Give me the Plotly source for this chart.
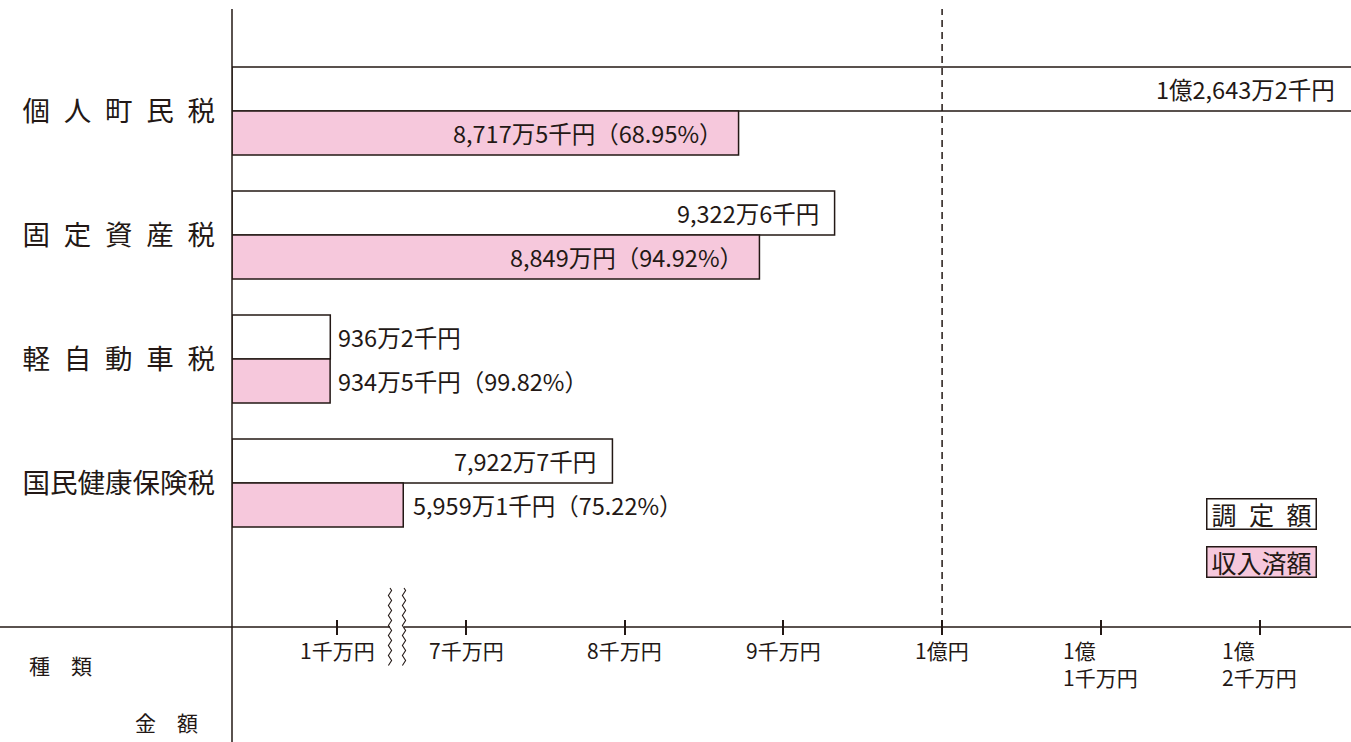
import plotly.graph_objects as go

# ---------------- data ----------------
categories = ["個人町民税", "固定資産税", "軽自動車税", "国民健康保険税"]
category_labels = ["個\u2002人\u2002町\u2002民\u2002税", "固\u2002定\u2002資\u2002産\u2002税",
                   "軽\u2002自\u2002動\u2002車\u2002税", "国民健康保険税"]
series_names = ["調定額", "収入済額"]
legend_labels = ["調\u2002定\u2002額", "収入済額"]
assessed = [126432000, 93226000, 9362000, 79227000]          # 調定額 (円)
collected = [87175000, 88490000, 9345000, 59591000]          # 収入済額 (円)
collection_rates = [68.95, 94.92, 99.82, 75.22]              # 収納率 (%)
assessed_labels = ["1億2,643万2千円", "9,322万6千円", "936万2千円", "7,922万7千円"]
collected_labels = ["8,717万5千円", "8,849万円", "934万5千円", "5,959万1千円"]
low_tick_values = [10000000]
low_tick_labels = ["1千万円"]
high_tick_values = [70000000, 80000000, 90000000, 100000000, 110000000, 120000000]
high_tick_labels = ["7千万円", "8千万円", "9千万円", "1億円", "1億<br>1千万円", "1億<br>2千万円"]
reference_line_value = 100000000
corner_labels = ["種　類", "金　額"]

# ---------------- layout geometry (pixels) ----------------
W, H = 1351, 742
PL, PR, PT, PB = 232, 1351, 9, 619
AXIS_Y = 627
BREAK_X = 404
PW, PH = PR - PL, PB - PT

def px_x(p):
    return (p - PL) / PW

def px_y(p):
    return (PB - p) / PH

INK = "#231815"
PINK = "#f6c8dc"
VALUE_FONT = dict(family="Noto Sans CJK JP", size=23.5, color=INK)

# axis 1 (0 .. break), axis 2 (after break)
low_px_per_unit = 105 / 1e7
x1_end = (BREAK_X - PL) / low_px_per_unit
high_px_per_unit = 158.7 / 1e7
x2_start = 7e7 - (466 - BREAK_X) / high_px_per_unit
x2_end = 7e7 + (PR - 466) / high_px_per_unit
d1 = px_x(BREAK_X)

n = len(categories)
y_top = -(111 - PT) / 124
y_bottom = (PB - 111) / 124
BARGAP = 0.29
half = 0.5 * (1 - BARGAP) / 2

fig = go.Figure()
for xa in ["x", "x2"]:
    fig.add_trace(go.Bar(y=categories, x=assessed, orientation="h", name=series_names[0],
                         xaxis=xa, yaxis="y", offsetgroup="a",
                         marker=dict(color="white", line=dict(color=INK, width=1.5)),
                         showlegend=False))
    fig.add_trace(go.Bar(y=categories, x=collected, orientation="h", name=series_names[1],
                         xaxis=xa, yaxis="y", offsetgroup="b",
                         marker=dict(color=PINK, line=dict(color=INK, width=1.5)),
                         showlegend=False))

annotations = []
shapes = []

def add_value_label(value, text, yi):
    if value >= 7e7:
        annotations.append(dict(x=min(value, x2_end), y=yi, xref="x2", yref="y", text=text,
                                showarrow=False, xanchor="right", xshift=-14,
                                font=VALUE_FONT))
    elif value > x1_end:
        # bar ends inside the axis break: close it at the break and label it there
        annotations.append(dict(x=x1_end, y=yi, xref="x", yref="y", text=text,
                                showarrow=False, xanchor="left", xshift=7,
                                font=VALUE_FONT))
        shapes.append(dict(type="line", xref="x", yref="y", x0=x1_end, x1=x1_end,
                           y0=yi - half, y1=yi + half, line=dict(color=INK, width=3)))
    else:
        annotations.append(dict(x=value, y=yi, xref="x", yref="y", text=text,
                                showarrow=False, xanchor="left", xshift=6,
                                font=VALUE_FONT))

for i in range(n):
    add_value_label(assessed[i], assessed_labels[i], i - half)
    add_value_label(collected[i], f"{collected_labels[i]}（{collection_rates[i]:.2f}%）", i + half)

TICK_FONT = dict(family="Noto Sans CJK JP", size=21, color=INK)
for v, t in zip(low_tick_values, low_tick_labels):
    annotations.append(dict(x=v, y=px_y(633), xref="x", yref="paper", text=t, showarrow=False,
                            xanchor="center", yanchor="top", align="left", font=TICK_FONT))
for v, t in zip(high_tick_values, high_tick_labels):
    annotations.append(dict(x=v, y=px_y(633), xref="x2", yref="paper", text=t, showarrow=False,
                            xanchor="center", yanchor="top", align="left", font=TICK_FONT))

# legend boxes
for lbl, bg, cy in [(legend_labels[0], "white", 514), (legend_labels[1], PINK, 561.5)]:
    annotations.append(dict(x=px_x(1261), y=px_y(cy), xref="paper", yref="paper", text=lbl,
                            showarrow=False, xanchor="center", yanchor="middle",
                            width=106, height=27, borderpad=1, borderwidth=1.5,
                            bordercolor=INK, bgcolor=bg,
                            font=dict(family="Noto Sans CJK JP", size=25, color=INK)))

# corner labels
CORNER_FONT = dict(family="Noto Sans CJK JP", size=21, color=INK)
annotations.append(dict(x=px_x(60), y=px_y(665), xref="paper", yref="paper", text=corner_labels[0],
                        showarrow=False, xanchor="center", yanchor="middle", font=CORNER_FONT))
annotations.append(dict(x=px_x(166), y=px_y(722), xref="paper", yref="paper", text=corner_labels[1],
                        showarrow=False, xanchor="center", yanchor="middle", font=CORNER_FONT))

# shapes: axis lines, break marks, 1億 reference line
line_style = dict(color=INK, width=1.5)
shapes.append(dict(type="line", xref="paper", yref="paper", x0=0, x1=0,
                   y0=px_y(H), y1=px_y(PT), line=line_style))
shapes.append(dict(type="line", xref="paper", yref="paper", x0=px_x(0), x1=px_x(BREAK_X - 14),
                   y0=px_y(AXIS_Y), y1=px_y(AXIS_Y), line=line_style))
shapes.append(dict(type="line", xref="paper", yref="paper", x0=px_x(BREAK_X), x1=px_x(PR),
                   y0=px_y(AXIS_Y), y1=px_y(AXIS_Y), line=line_style))

def wavy_path(cx, ytop, ybot, amp=1.6, step=2.5):
    pts = []
    yy = ytop
    k = 0
    while yy <= ybot:
        off = (0, amp, 0, -amp)[k % 4]
        pts.append((px_x(cx + off), px_y(yy)))
        yy += step
        k += 1
    path = "M %f,%f" % pts[0]
    for p in pts[1:]:
        path += " L %f,%f" % p
    return path

for cx in (BREAK_X - 14, BREAK_X):
    shapes.append(dict(type="path", xref="paper", yref="paper", path=wavy_path(cx, 588, 666),
                       line=dict(color=INK, width=1.1)))

shapes.append(dict(type="line", xref="x2", yref="paper", x0=reference_line_value,
                   x1=reference_line_value, y0=px_y(AXIS_Y), y1=px_y(PT),
                   line=dict(color=INK, width=1.5, dash="7px,5px")))

fig.update_layout(
    width=W, height=H,
    margin=dict(l=PL, r=W - PR, t=PT, b=H - PB, pad=0),
    paper_bgcolor="white", plot_bgcolor="white",
    barmode="group", bargap=BARGAP, bargroupgap=0,
    showlegend=False,
    font=dict(family="Noto Sans CJK JP", color=INK),
    xaxis=dict(domain=[0, d1], range=[0, x1_end], tickvals=low_tick_values,
               ticks="outside", ticklen=15, tickwidth=1.5, tickcolor=INK,
               showticklabels=False, showgrid=False, zeroline=False, showline=False,
               fixedrange=True),
    xaxis2=dict(domain=[d1, 1], range=[x2_start, x2_end], anchor="y", tickvals=high_tick_values,
                ticks="outside", ticklen=15, tickwidth=1.5, tickcolor=INK,
                showticklabels=False, showgrid=False, zeroline=False, showline=False,
                fixedrange=True),
    yaxis=dict(type="category", categoryarray=categories, categoryorder="array",
               range=[y_bottom, y_top], tickvals=categories, ticktext=category_labels,
               ticks="", showgrid=False, zeroline=False, showline=False,
               ticklabelstandoff=16,
               tickfont=dict(family="Noto Sans CJK JP", size=27.5, color=INK),
               fixedrange=True),
    annotations=annotations,
    shapes=shapes,
)

fig.write_html("out.html", config={"displayModeBar": False},
               post_script="document.body.style.margin='0';document.body.style.overflow='hidden';")
